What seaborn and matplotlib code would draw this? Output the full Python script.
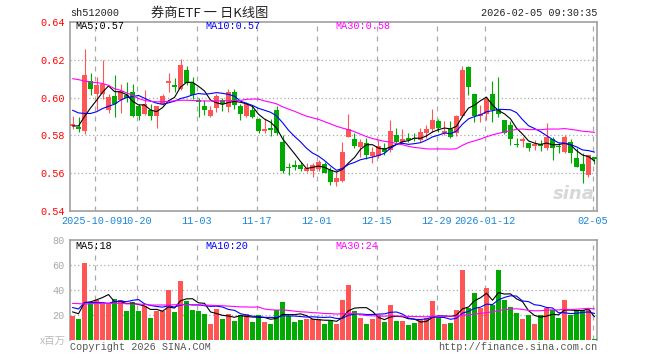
import numpy as np
import pandas as pd
import matplotlib
matplotlib.use("Agg")
import matplotlib.pyplot as plt
import seaborn as sns

# ---------------- data ----------------
opens = [0.5850, 0.5846, 0.5825, 0.6086, 0.6018, 0.6021, 0.5935, 0.6007, 0.5989, 0.6015,
         0.6028, 0.5956, 0.5912, 0.5937, 0.5902, 0.5968, 0.6077, 0.6068, 0.6047, 0.6147,
         0.6077, 0.5989, 0.5954, 0.5902, 0.5944, 0.5986, 0.5951, 0.6030, 0.5956, 0.5902,
         0.5937, 0.5886, 0.5825, 0.5837, 0.5933, 0.5767, 0.5635, 0.5644, 0.5644, 0.5614,
         0.5614, 0.5621, 0.5649, 0.5618, 0.5551, 0.5561, 0.5793, 0.5781, 0.5737, 0.5758,
         0.5691, 0.5691, 0.5732, 0.5723, 0.5802, 0.5767, 0.5784, 0.5788, 0.5775, 0.5814,
         0.5832, 0.5877, 0.5814, 0.5832, 0.5814, 0.5902, 0.6161, 0.6018, 0.5902, 0.5912,
         0.6018, 0.5942, 0.5884, 0.5854, 0.5756, 0.5768, 0.5761, 0.5744, 0.5754, 0.5732,
         0.5779, 0.5744, 0.5714, 0.5767, 0.5679, 0.5649, 0.5591, 0.5684]
highs = [0.5905, 0.5895, 0.6258, 0.6128, 0.6107, 0.6200, 0.6020, 0.6117, 0.6073, 0.6085,
         0.6074, 0.5968, 0.6042, 0.5968, 0.5958, 0.6021, 0.6130, 0.6105, 0.6205, 0.6165,
         0.6109, 0.6000, 0.5986, 0.5954, 0.6021, 0.6000, 0.6047, 0.6047, 0.5968, 0.5977,
         0.5960, 0.5890, 0.5886, 0.5886, 0.5954, 0.5802, 0.5656, 0.5670, 0.5661, 0.5656,
         0.5656, 0.5670, 0.5661, 0.5635, 0.5609, 0.5767, 0.5912, 0.5811, 0.5779, 0.5784,
         0.5740, 0.5775, 0.5758, 0.5884, 0.5837, 0.5832, 0.5811, 0.5811, 0.5840, 0.5854,
         0.5942, 0.5889, 0.5877, 0.5877, 0.5907, 0.6165, 0.6165, 0.6018, 0.5960, 0.6004,
         0.6088, 0.6109, 0.5884, 0.5877, 0.5784, 0.5793, 0.5761, 0.5775, 0.5775, 0.5867,
         0.5793, 0.5758, 0.5802, 0.5779, 0.5732, 0.5705, 0.5696, 0.5684]
lows = [0.5832, 0.5820, 0.5810, 0.6016, 0.5937, 0.5995, 0.5920, 0.5900, 0.5919, 0.5975,
        0.5895, 0.5881, 0.5907, 0.5881, 0.5840, 0.5960, 0.6030, 0.6030, 0.6039, 0.6065,
        0.5995, 0.5895, 0.5907, 0.5895, 0.5925, 0.5930, 0.5925, 0.5942, 0.5881, 0.5895,
        0.5890, 0.5811, 0.5811, 0.5798, 0.5802, 0.5600, 0.5591, 0.5618, 0.5609, 0.5605,
        0.5579, 0.5614, 0.5600, 0.5535, 0.5530, 0.5556, 0.5790, 0.5732, 0.5688, 0.5674,
        0.5656, 0.5679, 0.5696, 0.5714, 0.5758, 0.5758, 0.5767, 0.5770, 0.5767, 0.5784,
        0.5819, 0.5819, 0.5802, 0.5788, 0.5796, 0.5898, 0.6012, 0.5872, 0.5872, 0.5881,
        0.5872, 0.5900, 0.5807, 0.5749, 0.5740, 0.5740, 0.5719, 0.5725, 0.5719, 0.5725,
        0.5670, 0.5709, 0.5705, 0.5656, 0.5635, 0.5547, 0.5582, 0.5649]
closes = [0.5860, 0.5835, 0.6118, 0.6044, 0.6068, 0.6074, 0.6005, 0.5968, 0.6035, 0.5998,
          0.5903, 0.5902, 0.5968, 0.5902, 0.5954, 0.6007, 0.6086, 0.6056, 0.6175, 0.6077,
          0.6012, 0.5979, 0.5933, 0.5933, 0.6007, 0.5968, 0.6030, 0.5960, 0.5912, 0.5965,
          0.5898, 0.5825, 0.5833, 0.5828, 0.5814, 0.5614, 0.5626, 0.5635, 0.5623, 0.5626,
          0.5644, 0.5661, 0.5600, 0.5551, 0.5574, 0.5714, 0.5833, 0.5744, 0.5767, 0.5696,
          0.5714, 0.5744, 0.5714, 0.5825, 0.5767, 0.5781, 0.5775, 0.5781, 0.5818, 0.5832,
          0.5884, 0.5837, 0.5825, 0.5793, 0.5902, 0.6147, 0.6056, 0.5902, 0.5912, 0.5995,
          0.5937, 0.5912, 0.5814, 0.5779, 0.5751, 0.5779, 0.5732, 0.5754, 0.5744, 0.5789,
          0.5732, 0.5737, 0.5789, 0.5705, 0.5635, 0.5614, 0.5696, 0.5674]
volumes = [19.5, 16.8, 61.6, 30.7, 32.0, 28.8, 28.8, 32.8, 32.0, 23.2,
           30.7, 23.2, 27.2, 17.9, 23.5, 23.5, 40.0, 22.7, 47.2, 31.2,
           24.0, 23.5, 20.8, 12.8, 24.8, 16.8, 20.8, 15.5, 20.0, 20.8,
           14.7, 20.0, 14.7, 12.8, 24.0, 30.7, 19.2, 14.7, 16.0, 16.8,
           16.8, 16.8, 12.8, 15.5, 12.8, 32.0, 44.0, 23.2, 17.3, 12.8,
           16.8, 20.0, 14.7, 28.0, 15.2, 15.2, 12.0, 13.3, 16.0, 18.0,
           31.2, 18.0, 12.8, 13.9, 24.0, 56.0, 25.3, 37.9, 25.9, 41.9,
           28.0, 56.0, 32.0, 26.7, 21.9, 16.8, 20.0, 12.8, 20.0, 25.9,
           24.0, 17.9, 32.0, 20.0, 24.0, 24.0, 24.0, 0.8]

# moving-average values at the start of the chart (window not complete in view)
ma5_head = [0.5850, 0.5850, 0.5900, 0.5945]
ma10_head = [0.5933, 0.5919, 0.5916, 0.5916, 0.5925, 0.5942, 0.5954, 0.5965, 0.5986]
ma30_head = [0.6100, 0.6095, 0.6088, 0.6082, 0.6079, 0.6075, 0.6065, 0.6047, 0.6039, 0.6025,
             0.6012, 0.5995, 0.5985, 0.5980, 0.5978, 0.5978, 0.5980, 0.5983, 0.5986, 0.5986,
             0.5985, 0.5983, 0.5982, 0.5982, 0.5982, 0.5983, 0.5984, 0.5985, 0.5985]
vma5_head = [22.5, 21.0, 30.0, 30.5]
vma10_head = [26.0, 24.8, 29.9, 30.0, 29.9, 29.9, 29.3, 30.7, 31.2]
vma30_head = [29.3, 29.1, 28.8, 29.0, 29.2, 29.3, 29.3, 29.3, 29.3, 29.0,
              28.8, 28.8, 28.4, 28.0, 28.0, 28.0, 28.0, 28.2, 28.3, 28.3,
              28.2, 28.0, 28.0, 27.8, 27.6, 27.4, 27.1, 26.8, 26.5]

date_labels = ["2025-10-09", "10-20", "11-03", "11-17", "12-01", "12-15", "12-29", "2026-01-12", "02-05"]
date_index = [4, 11, 21, 31, 41, 51, 61, 69, 87]
price_ticks = [0.54, 0.56, 0.58, 0.60, 0.62, 0.64]
price_labels = ["0.54", "0.56", "0.58", "0.60", "0.62", "0.64"]
vol_ticks = [20, 40, 60, 80]
vol_labels = ["20", "40", "60", "80"]
price_legend = ["MA5:0.57", "MA10:0.57", "MA30:0.58"]
vol_legend = ["MA5:18", "MA10:20", "MA30:24"]
title_text = "券商ETF 一 日K线图"
code_text = "sh512000"
time_text = "2026-02-05 09:30:35"

# ---------------- styling ----------------
RED = "#ff5555"
GREEN = "#00aa00"
MA_COLORS = ["#000000", "#0000ff", "#ff00ff"]
FRAME = "#a0a0a0"
GRID = "#aaaaaa"
DATE_BLUE = "#1a86d6"

sns.set_style("white")
plt.rcParams['font.family'] = ['Liberation Mono', 'Noto Sans CJK SC', 'DejaVu Sans']
MONO = 7.3

W, H = 660, 360
fig = plt.figure(figsize=(6.6, 3.6), dpi=100)


def rect(l, t, r, b):
    return [l / W, 1 - b / H, (r - l) / W, (b - t) / H]


ax = fig.add_axes(rect(70, 22, 597, 211))
axv = fig.add_axes(rect(70, 240, 597, 340))

n = len(closes)
x = np.arange(n)
o = np.array(opens)
c = np.array(closes)
up = c >= o
colors = np.where(up, RED, GREEN)


def moving(values, win, head):
    s = pd.Series(values, dtype=float).rolling(win).mean().to_numpy()
    s[:win - 1] = head
    return s


ma_p = [moving(closes, 5, ma5_head), moving(closes, 10, ma10_head), moving(closes, 30, ma30_head)]
ma_v = [moving(volumes, 5, vma5_head), moving(volumes, 10, vma10_head), moving(volumes, 30, vma30_head)]

XL = (-2.5 / 6, (597 - 72.5) / 6)

# ---------- price panel ----------
ax.vlines(x, lows, highs, colors=colors, lw=0.8, zorder=3)
body_bottom = np.minimum(o, c)
body_h = np.maximum(np.abs(c - o), 0.0006)
ax.bar(x, body_h, bottom=body_bottom, width=0.83, color=colors, linewidth=0, zorder=3)
for m, col in zip(ma_p, MA_COLORS):
    sns.lineplot(x=x, y=m, color=col, lw=0.8, ax=ax, zorder=4)

ax.set_xlim(*XL)
ax.set_ylim(0.54, 0.64)
for yv in price_ticks[1:-1]:
    ax.axhline(yv, color=GRID, lw=0.9, ls=(0, (1, 2)), zorder=1)
for xi in date_index:
    ax.axvline(xi - 0.3, color=GRID, lw=0.9, ls=(0, (4, 4)), zorder=1)
ax.set_yticks(price_ticks)
ax.set_yticklabels(price_labels, color="#ff0000", fontsize=MONO)
ax.set_xticks([])
ax.tick_params(axis='y', length=0, pad=4)
ax.set_xlabel("")
ax.set_ylabel("")
for s in ax.spines.values():
    s.set_color(FRAME)
    s.set_linewidth(1.2)

leg_x = [0.0095, 0.256, 0.503]
for t, col, lx in zip(price_legend, MA_COLORS, leg_x):
    ax.text(lx, 0.978, t, transform=ax.transAxes, color=col, fontsize=MONO, va='center', ha='left', zorder=6)

ax.text(0.995, 0.09, "sina", transform=ax.transAxes, color="#d8d8d8", fontsize=13,
        fontweight='bold', style='italic', ha='right', va='center', family='DejaVu Sans', zorder=0)

# ---------- volume panel ----------
df = pd.DataFrame({"x": x, "v": volumes, "dir": np.where(up, "up", "down")})
sns.barplot(data=df, x="x", y="v", hue="dir", palette={"up": RED, "down": GREEN},
            native_scale=True, width=0.83, dodge=False, legend=False, saturation=1,
            linewidth=0, ax=axv, zorder=3)
for m, col in zip(ma_v, MA_COLORS):
    sns.lineplot(x=x, y=m, color=col, lw=0.8, ax=axv, zorder=4)
axv.set_xlim(*XL)
axv.set_ylim(0, 80)
for yv in [20, 40, 60]:
    axv.axhline(yv, color=GRID, lw=0.9, ls=(0, (1, 2)), zorder=1)
for xi in date_index:
    axv.axvline(xi - 0.3, color=GRID, lw=0.9, ls=(0, (4, 4)), zorder=1)
axv.set_yticks(vol_ticks)
axv.set_yticklabels(vol_labels, color="#a8a8a8", fontsize=MONO)
axv.set_xticks([])
axv.tick_params(axis='y', length=0, pad=4)
axv.set_xlabel("")
axv.set_ylabel("")
for k, s in axv.spines.items():
    s.set_color(FRAME)
    s.set_linewidth(1.2)
axv.spines['bottom'].set_visible(False)
for t, col, lx in zip(vol_legend, MA_COLORS, leg_x):
    axv.text(lx, 0.94, t, transform=axv.transAxes, color=col, fontsize=MONO, va='center', ha='left', zorder=6)

# ---------- texts ----------
fig.text(70 / W, 1 - 13 / H, code_text, color="#222222", fontsize=MONO, ha='left', va='center')
fig.text(210 / W, 1 - 13 / H, title_text, color="#222222", fontsize=9.5, ha='center', va='center',
         family=['Noto Sans CJK SC', 'DejaVu Sans'])
fig.text(597 / W, 1 - 13 / H, time_text, color="#222222", fontsize=MONO, ha='right', va='center')
for k, (lab, xi) in enumerate(zip(date_labels, date_index)):
    px = 72.5 + 6 * (xi - 0.3)
    if k == 0:
        px -= 3
    fig.text(px / W, 1 - 221 / H, lab, color=DATE_BLUE, fontsize=MONO, ha='center', va='center')
fig.text(66 / W, 1 - 341 / H, "x百万", color="#bbbbbb", fontsize=7.5, ha='right', va='center',
         family=['Noto Sans CJK SC', 'DejaVu Sans'])
fig.text(70 / W, 1 - 347 / H, "Copyright 2026 SINA.COM", color="#555555", fontsize=MONO, ha='left', va='center')
fig.text(597 / W, 1 - 347 / H, "http://finance.sina.com.cn", color="#555555", fontsize=MONO, ha='right', va='center')

fig.savefig("out.png", dpi=100)
